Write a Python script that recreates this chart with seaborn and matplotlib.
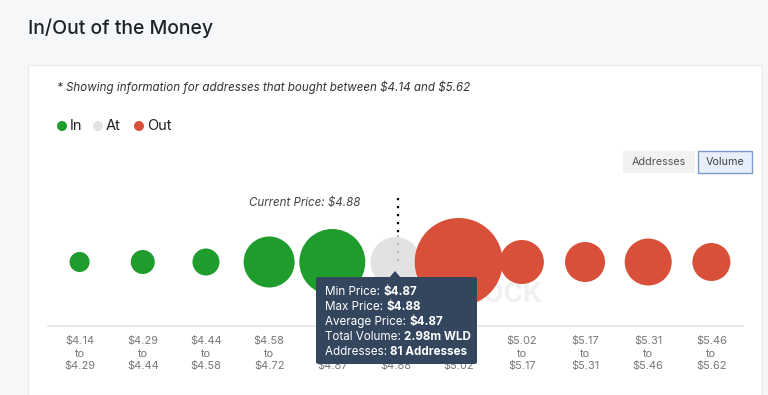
import matplotlib
matplotlib.use("Agg")
import matplotlib.pyplot as plt
from matplotlib.patches import Rectangle, FancyBboxPatch, Polygon, Ellipse
import seaborn as sns
import pandas as pd

# data
range_lo = ["$4.14", "$4.29", "$4.44", "$4.58", "$4.72", "$4.87", "$4.88", "$5.02", "$5.17", "$5.31", "$5.46"]
range_hi = ["$4.29", "$4.44", "$4.58", "$4.72", "$4.87", "$4.88", "$5.02", "$5.17", "$5.31", "$5.46", "$5.62"]
volume_m = [0.48, 0.69, 0.87, 3.10, 5.19, 2.98, 9.23, 2.31, 1.91, 2.63, 1.72]
status = ["In", "In", "In", "In", "In", "At", "Out", "Out", "Out", "Out", "Out"]
current_price_pos = 5.04

tip_labels = ["Min Price: ", "Max Price: ", "Average Price: ", "Total Volume: ", "Addresses: "]
tip_values = ["$4.87", "$4.88", "$4.87", "2.98m WLD", "81 Addresses"]

colors = {"In": "#1e9c2c", "At": "#e2e2e2", "Out": "#d9503a"}

W, H = 768, 395
def fx(x):
    return x / W
def fy(y):
    return 1 - y / H

sns.set_theme(style="white")
plt.rcParams['font.family'] = ['Inter', 'DejaVu Sans']
plt.rcParams['text.parse_math'] = False

fig = plt.figure(figsize=(W / 100, H / 100), dpi=100)
fig.patch.set_facecolor("#f5f7f9")

# white card
card = Rectangle((fx(28), 0), fx(762) - fx(28), fy(65), transform=fig.transFigure,
                 facecolor="white", edgecolor="#e6e8eb", lw=0.8, zorder=-1)
fig.patches.append(card)

fig.text(fx(28), fy(28), "In/Out of the Money", fontsize=14, color="#1f2328",
         weight="medium", ha="left", va="center")
fig.text(fx(57), fy(87), "* Showing information for addresses that bought between $4.14 and $5.62",
         fontsize=8.35, style="italic", color="#333333", ha="left", va="center")

# legend
for cx, tx, lab in [(62, 70, "In"), (98, 106, "At"), (139, 147, "Out")]:
    fig.patches.append(Ellipse((fx(cx), fy(126)), 10 / W, 10 / H, transform=fig.transFigure,
                               facecolor=colors[lab], edgecolor="none"))
    fig.text(fx(tx), fy(126), lab, fontsize=10.5, color="#222222", ha="left", va="center")

# buttons
fig.patches.append(Rectangle((fx(623), fy(173)), fx(695) - fx(623), fy(151) - fy(173),
                             transform=fig.transFigure, facecolor="#f1f2f4", edgecolor="none"))
fig.text(fx(659), fy(162), "Addresses", fontsize=7.8, color="#555555", ha="center", va="center")
fig.patches.append(Rectangle((fx(698), fy(173)), fx(752) - fx(698), fy(151) - fy(173),
                             transform=fig.transFigure, facecolor="#e6effa", edgecolor="#7b9cc8", lw=1))
fig.text(fx(725), fy(162), "Volume", fontsize=7.8, color="#444444", ha="center", va="center")

# watermark
fig.text(fx(542), fy(295), "INTOTHEBLOCK", fontsize=19, weight="bold", color="#f0f0f0",
         ha="right", va="center", zorder=-0.5)

# bubble chart
df = pd.DataFrame({"pos": range(len(volume_m)), "y": 0, "volume": volume_m, "status": status})
ax = fig.add_axes([fx(48), fy(326), fx(743) - fx(48), fy(180) - fy(326)])
ax.set_facecolor("none")

vmax = max(volume_m)
smax = (1.44 * 44) ** 2
sns.scatterplot(data=df, x="pos", y="y", hue="status", palette=colors, size="volume",
                sizes=(0, smax), size_norm=(0, vmax), linewidth=0, legend=False, ax=ax, zorder=2)

# current price marker: dark above the grey bubble, faint inside it
ax.plot([current_price_pos, current_price_pos], [64, 27], color="black", lw=1.6,
        linestyle=(0, (1, 2.6)), zorder=3)
ax.plot([current_price_pos, current_price_pos], [27, 0], color="#b9b9b9", lw=1.6,
        linestyle=(0, (1, 2.6)), zorder=3)

ax.text(current_price_pos - 0.6, 59, "Current Price: $4.88", fontsize=8.3, style="italic",
        color="#444444", ha="right", va="center")

ax.set_xlim(-0.5, len(volume_m) - 0.5)
ax.set_ylim(-64, 82)
ax.set_xticks(range(len(volume_m)), [f"{a}\nto\n{b}" for a, b in zip(range_lo, range_hi)])
ax.tick_params(axis="x", length=0, pad=7, labelsize=7.9, labelcolor="#777777")
for t in ax.get_xticklabels():
    t.set_linespacing(1.35)
ax.set_yticks([])
ax.set_xlabel("")
ax.set_ylabel("")
for s in ["top", "left", "right"]:
    ax.spines[s].set_visible(False)
ax.spines["bottom"].set_color("#e3e3e3")
ax.spines["bottom"].set_linewidth(1.2)

# tooltip
tip_bg = "#33465e"
fig.patches.append(FancyBboxPatch((fx(316), fy(364)), fx(477) - fx(316), fy(277) - fy(364),
                                  boxstyle="round,pad=0,rounding_size=0.004",
                                  transform=fig.transFigure, facecolor=tip_bg, edgecolor="none", zorder=5))
fig.patches.append(Polygon([(fx(389), fy(278)), (fx(395), fy(271)), (fx(401), fy(278))],
                           closed=True, transform=fig.transFigure, facecolor=tip_bg,
                           edgecolor="none", zorder=5))
renderer = fig.canvas.get_renderer()
for i, (lab, val) in enumerate(zip(tip_labels, tip_values)):
    yy = fy(292 + 15 * i)
    t = fig.text(fx(325), yy, lab, fontsize=8.4, color="white", ha="left", va="center", zorder=6)
    bb = t.get_window_extent(renderer)
    fig.text(bb.x1 / W, yy, val, fontsize=8.4, color="white", weight="bold",
             ha="left", va="center", zorder=6)

fig.savefig("out.png", dpi=100, facecolor=fig.get_facecolor())
